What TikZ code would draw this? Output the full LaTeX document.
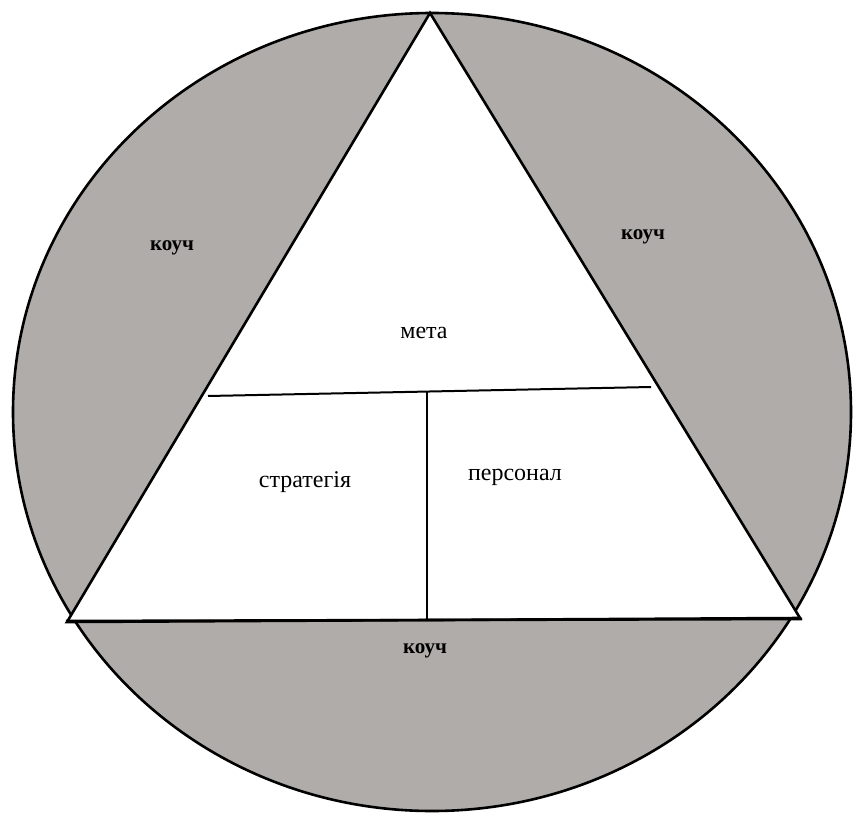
\documentclass[tikz,border=0pt]{standalone}
\usepackage{fontspec}
\setmainfont{Liberation Serif}
\definecolor{shade}{RGB}{176,172,169}
\begin{document}
\begin{tikzpicture}[x=1pt,y=-1pt,
  edge/.style={black,line width=2.6pt},
  thin edge/.style={black,line width=2pt},
  lbl/.style={font=\fontsize{24}{28}\selectfont},
  coach/.style={font=\fontsize{21}{25}\selectfont\bfseries}]
\useasboundingbox (0,0) rectangle (853,813);
\fill[white] (0,0) rectangle (853,813);
% outer circle (slightly elliptical in the scan)
\coordinate (c) at (432,412);
\filldraw[fill=shade,draw=black,line width=2.6pt] (c) ellipse [x radius=419, y radius=399];
% triangle
\coordinate (top) at (430,13);
\coordinate (bl) at (67,622);
\coordinate (br) at (800,618);
\filldraw[fill=white,draw=black,line width=2.6pt,line join=miter] (top) -- (bl) -- (br) -- cycle;
% bottom chord
\coordinate (bl2) at (66,621);
\coordinate (br2) at (802,619);
\draw[edge] (bl2) -- (br2);
% inner division lines
\coordinate (ml) at (208,396);
\coordinate (mr) at (651,387);
\coordinate (vt) at (427,392);
\coordinate (vb) at (427,620);
\draw[thin edge] (ml) -- (mr);
\draw[thin edge] (vt) -- (vb);
% labels
\node[coach] (k1) at (172,248) {коуч};
\node[coach] (k2) at (643,237) {коуч};
\node[coach] (k3) at (425,651) {коуч};
\node[lbl] (meta) at (424,333) {мета};
\node[lbl] (strat) at (305,482) {стратегія};
\node[lbl] (pers) at (515,477) {персонал};
\end{tikzpicture}
\end{document}
